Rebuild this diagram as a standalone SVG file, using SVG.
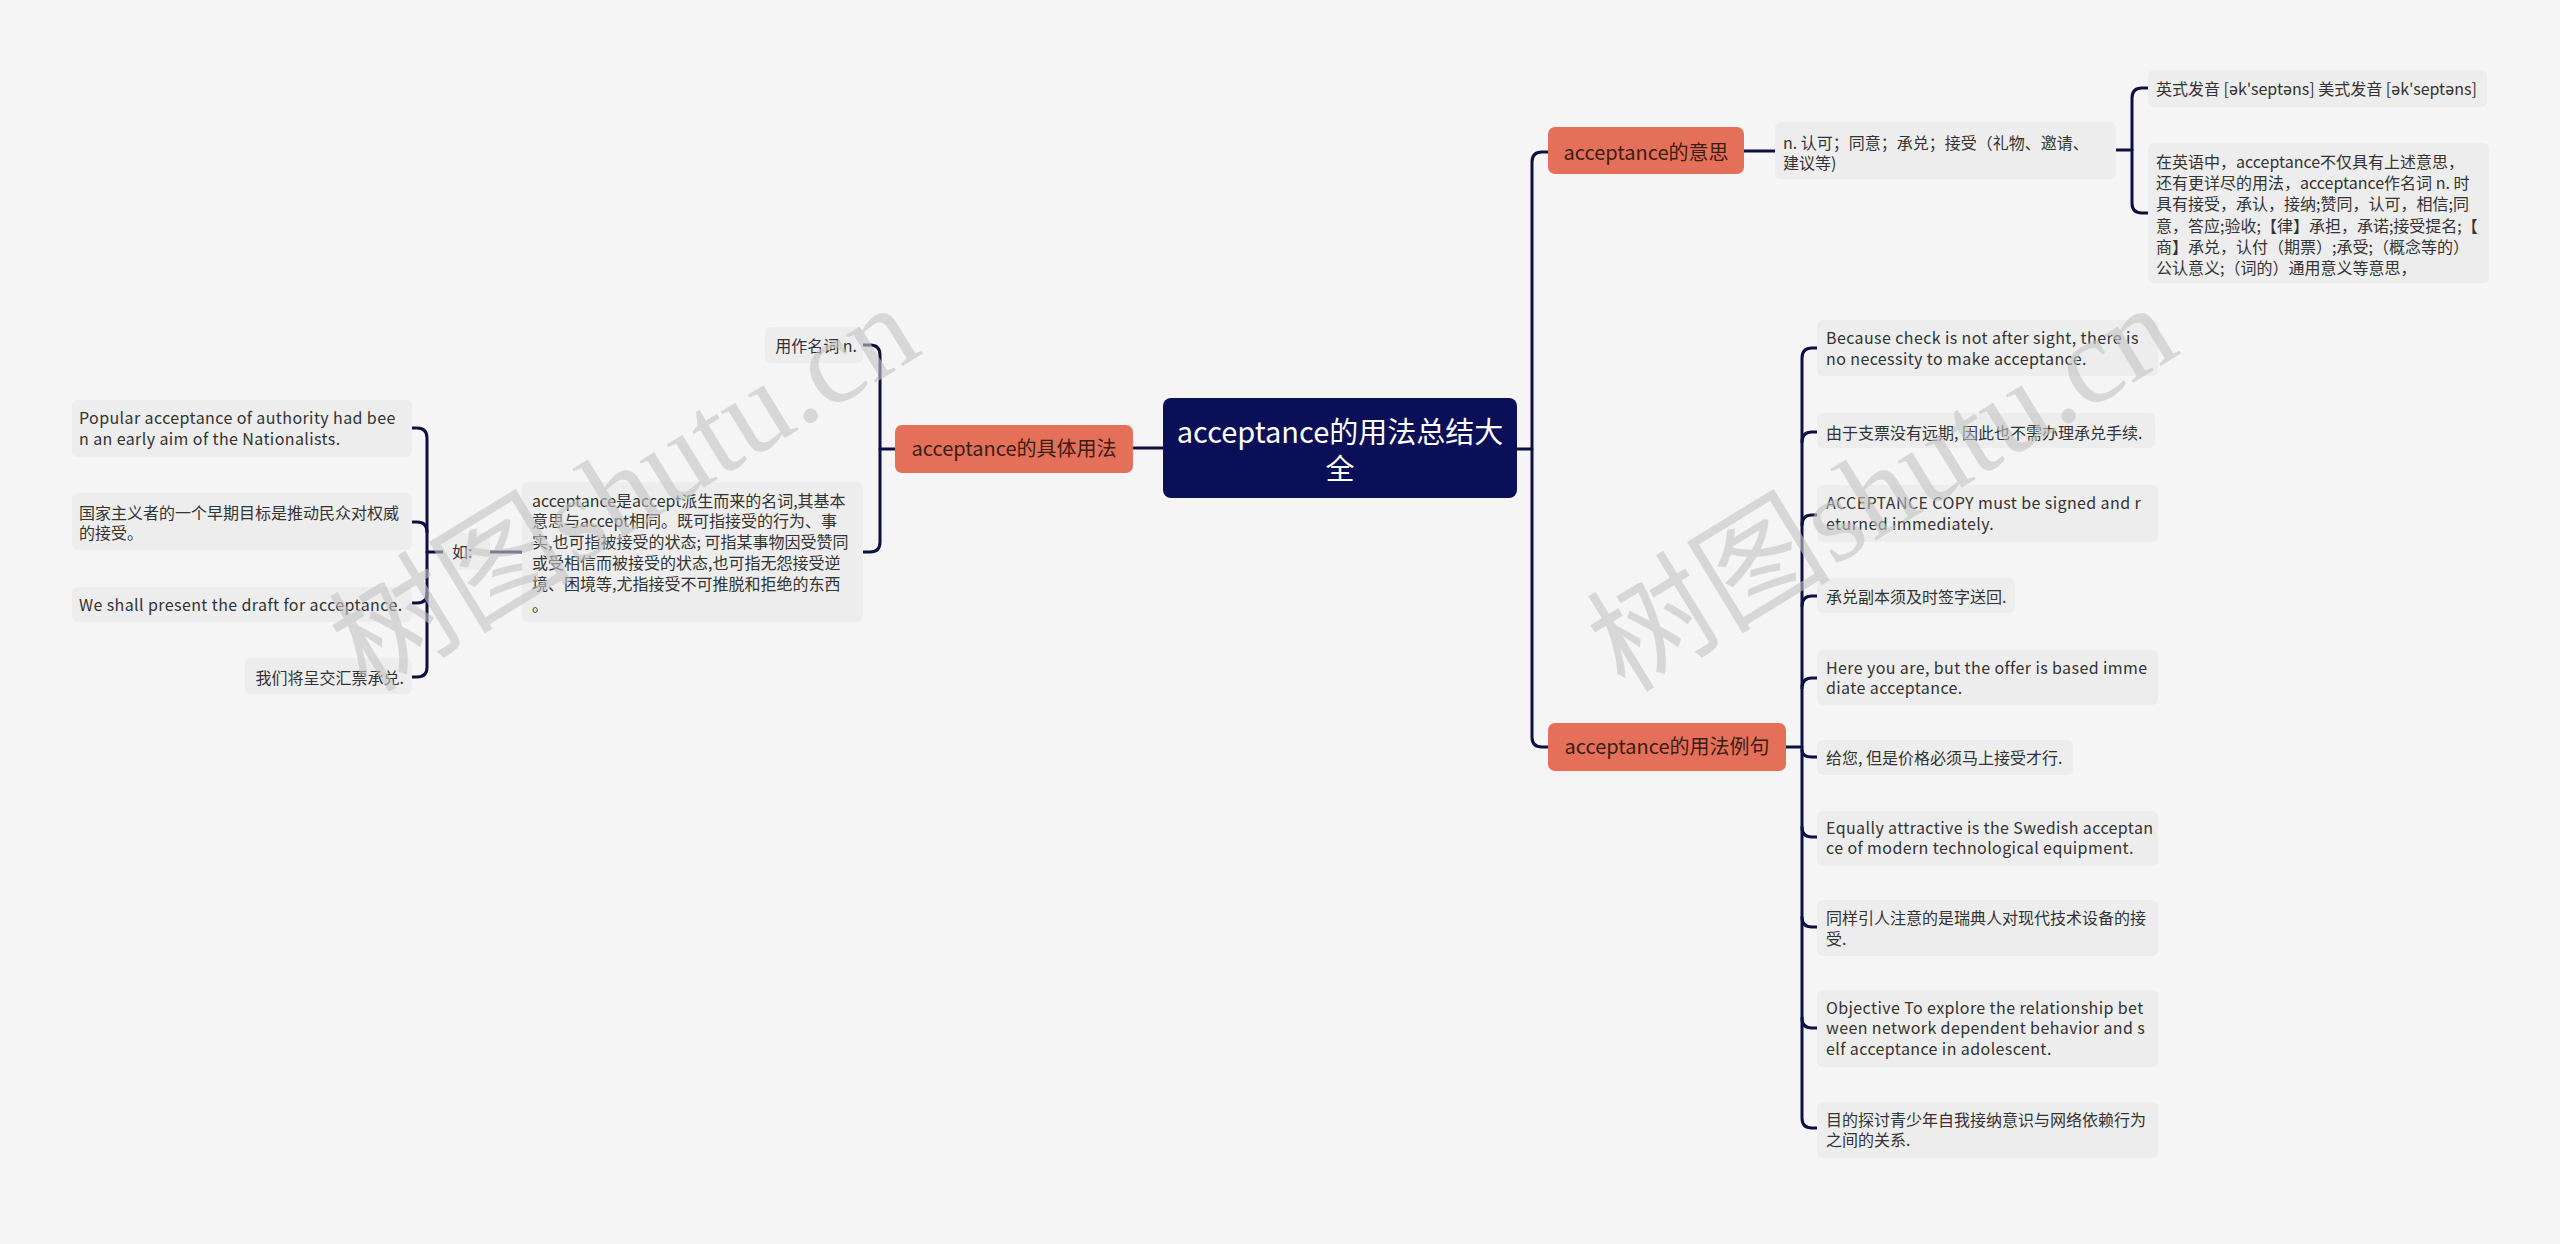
<svg xmlns="http://www.w3.org/2000/svg" width="2560" height="1244" viewBox="0 0 2560 1244">
<style>
.t{font-family:"Noto Sans CJK SC","Noto Sans",sans-serif;font-size:16px;fill:#333333}
.e{font-family:"Noto Sans CJK SC","Noto Sans",sans-serif;font-size:16px;letter-spacing:0.4px;fill:#333333}
.leaf{fill:#ededed}
.main rect{fill:#e5705a}
.main text{font-family:"Noto Sans CJK SC","Noto Sans",sans-serif;font-size:20px;fill:#3a1d14}
.conn path{fill:none;stroke:#0d1142;stroke-width:3;stroke-linecap:round}
.wm{font-family:"Liberation Serif","Noto Sans CJK SC",serif;font-size:122px;fill:#c4c4c4;opacity:0.6}
</style>
<rect width="2560" height="1244" fill="#f5f5f5"/>

<g class="conn">
<path d="M1163 448 H1133"/>
<path d="M895 449 H880"/>
<path d="M863 345 H870 Q880 345 880 355 V542 Q880 552 870 552 H863"/>
<path d="M522 552 H490"/>
<path d="M443 552 H427"/>
<path d="M412 428 H417 Q427 428 427 438 V667 Q427 677 417 677 H412"/>
<path d="M412 522 H417 Q427 522 427 532"/>
<path d="M412 603 H417 Q427 603 427 593"/>
<path d="M1517 449 H1532"/>
<path d="M1548 152 H1542 Q1532 152 1532 162 V737 Q1532 747 1542 747 H1548"/>
<path d="M1744 151 H1775"/>
<path d="M2116 150 H2132"/>
<path d="M2148 88 H2142 Q2132 88 2132 98 V203 Q2132 213 2142 213 H2148"/>
<path d="M1786 747 H1802"/>
<path d="M1817 348 H1812 Q1802 348 1802 358 V1118 Q1802 1128 1812 1128 H1817"/>
<path d="M1817 432 H1812 Q1802 432 1802 442"/>
<path d="M1817 515 H1812 Q1802 515 1802 525"/>
<path d="M1817 596 H1812 Q1802 596 1802 606"/>
<path d="M1817 678 H1812 Q1802 678 1802 688"/>
<path d="M1817 757 H1812 Q1802 757 1802 750"/>
<path d="M1817 837 H1812 Q1802 837 1802 827"/>
<path d="M1817 927 H1812 Q1802 927 1802 917"/>
<path d="M1817 1028 H1812 Q1802 1028 1802 1018"/>
</g>

<g id="root">
<rect x="1163" y="398" width="354" height="100" rx="8" fill="#0b0f58"/>
<text x="1340" y="443" text-anchor="middle" font-family="Noto Sans CJK SC, Noto Sans, sans-serif" font-size="29" fill="#ffffff">acceptance的用法总结大</text>
<text x="1340" y="480" text-anchor="middle" font-family="Noto Sans CJK SC, Noto Sans, sans-serif" font-size="29" fill="#ffffff">全</text>
</g>

<g id="usage" class="main">
<rect x="895" y="425" width="238" height="48" rx="7"/>
<text x="1014" y="456" text-anchor="middle">acceptance的具体用法</text>
</g>
<g id="meaning" class="main">
<rect x="1548" y="127" width="196" height="47" rx="7"/>
<text x="1646" y="160" text-anchor="middle">acceptance的意思</text>
</g>
<g id="examples" class="main">
<rect x="1548" y="723" width="238" height="48" rx="7"/>
<text x="1667" y="754" text-anchor="middle">acceptance的用法例句</text>
</g>

<g id="noun">
<rect class="leaf" x="765" y="327" width="98" height="36" rx="6"/>
<text class="t" x="857" y="352" text-anchor="end">用作名词 n.</text>
</g>
<g id="desc">
<rect class="leaf" x="522" y="482" width="341" height="140" rx="6"/>
<text class="t" x="532" y="507">acceptance是accept派生而来的名词,其基本</text>
<text class="t" x="532" y="527">意思与accept相同。既可指接受的行为、事</text>
<text class="t" x="532" y="548">实,也可指被接受的状态; 可指某事物因受赞同</text>
<text class="t" x="532" y="569">或受相信而被接受的状态,也可指无怨接受逆</text>
<text class="t" x="532" y="590">境、困境等,尤指接受不可推脱和拒绝的东西</text>
<text class="t" x="532" y="611">。</text>
</g>
<g id="ru">
<rect class="leaf" x="443" y="533" width="47" height="37" rx="6"/>
<text class="t" x="452" y="558">如:</text>
</g>
<g id="ex1">
<rect class="leaf" x="72" y="400" width="340" height="57" rx="6"/>
<text class="e" x="79" y="424">Popular acceptance of authority had bee</text>
<text class="e" x="79" y="445">n an early aim of the Nationalists.</text>
</g>
<g id="ex2">
<rect class="leaf" x="72" y="493" width="340" height="57" rx="6"/>
<text class="t" x="79" y="519">国家主义者的一个早期目标是推动民众对权威</text>
<text class="t" x="79" y="539">的接受。</text>
</g>
<g id="ex3">
<rect class="leaf" x="72" y="587" width="340" height="35" rx="6"/>
<text class="e" x="79" y="611">We shall present the draft for acceptance.</text>
</g>
<g id="ex4">
<rect class="leaf" x="245" y="658" width="167" height="36" rx="6"/>
<text class="t" x="404" y="684" text-anchor="end">我们将呈交汇票承兑.</text>
</g>

<g id="mean1">
<rect class="leaf" x="1775" y="122" width="341" height="57" rx="6"/>
<text class="t" x="1783" y="149">n. 认可；同意；承兑；接受（礼物、邀请、</text>
<text class="t" x="1783" y="169">建议等)</text>
</g>
<g id="pron">
<rect class="leaf" x="2148" y="70" width="339" height="37" rx="6"/>
<text class="t" x="2156" y="95">英式发音 [ək'septəns] 美式发音 [ək'septəns]</text>
</g>
<g id="mean2">
<rect class="leaf" x="2148" y="143" width="341" height="140" rx="6"/>
<text class="t" x="2156" y="168">在英语中，acceptance不仅具有上述意思，</text>
<text class="t" x="2156" y="189">还有更详尽的用法，acceptance作名词 n. 时</text>
<text class="t" x="2156" y="210">具有接受，承认，接纳;赞同，认可，相信;同</text>
<text class="t" x="2156" y="232">意，答应;验收;【律】承担，承诺;接受提名;【</text>
<text class="t" x="2156" y="253">商】承兑，认付（期票）;承受;（概念等的）</text>
<text class="t" x="2156" y="274">公认意义;（词的）通用意义等意思，</text>
</g>

<g id="s1">
<rect class="leaf" x="1817" y="320" width="341" height="56" rx="6"/>
<text class="e" x="1826" y="344">Because check is not after sight, there is</text>
<text class="e" x="1826" y="365">no necessity to make acceptance.</text>
</g>
<g id="s2">
<rect class="leaf" x="1817" y="413" width="338" height="35" rx="6"/>
<text class="t" x="1826" y="439">由于支票没有远期, 因此也不需办理承兑手续.</text>
</g>
<g id="s3">
<rect class="leaf" x="1817" y="485" width="341" height="57" rx="6"/>
<text class="e" x="1826" y="509">ACCEPTANCE COPY must be signed and r</text>
<text class="e" x="1826" y="530">eturned immediately.</text>
</g>
<g id="s4">
<rect class="leaf" x="1817" y="578" width="198" height="35" rx="6"/>
<text class="t" x="1826" y="603">承兑副本须及时签字送回.</text>
</g>
<g id="s5">
<rect class="leaf" x="1817" y="650" width="341" height="55" rx="6"/>
<text class="e" x="1826" y="674">Here you are, but the offer is based imme</text>
<text class="e" x="1826" y="694">diate acceptance.</text>
</g>
<g id="s6">
<rect class="leaf" x="1817" y="740" width="256" height="35" rx="6"/>
<text class="t" x="1826" y="764">给您, 但是价格必须马上接受才行.</text>
</g>
<g id="s7">
<rect class="leaf" x="1817" y="811" width="341" height="55" rx="6"/>
<text class="e" x="1826" y="834">Equally attractive is the Swedish acceptan</text>
<text class="e" x="1826" y="854">ce of modern technological equipment.</text>
</g>
<g id="s8">
<rect class="leaf" x="1817" y="900" width="341" height="56" rx="6"/>
<text class="t" x="1826" y="924">同样引人注意的是瑞典人对现代技术设备的接</text>
<text class="t" x="1826" y="945">受.</text>
</g>
<g id="s9">
<rect class="leaf" x="1817" y="990" width="341" height="77" rx="6"/>
<text class="e" x="1826" y="1014">Objective To explore the relationship bet</text>
<text class="e" x="1826" y="1034">ween network dependent behavior and s</text>
<text class="e" x="1826" y="1055">elf acceptance in adolescent.</text>
</g>
<g id="s10">
<rect class="leaf" x="1817" y="1102" width="341" height="56" rx="6"/>
<text class="t" x="1826" y="1126">目的探讨青少年自我接纳意识与网络依赖行为</text>
<text class="t" x="1826" y="1146">之间的关系.</text>
</g>

<text class="wm" transform="translate(367,694) rotate(-31.5)">树图shutu.cn</text>
<text class="wm" transform="translate(1625,694) rotate(-31.5)">树图shutu.cn</text>
</svg>
